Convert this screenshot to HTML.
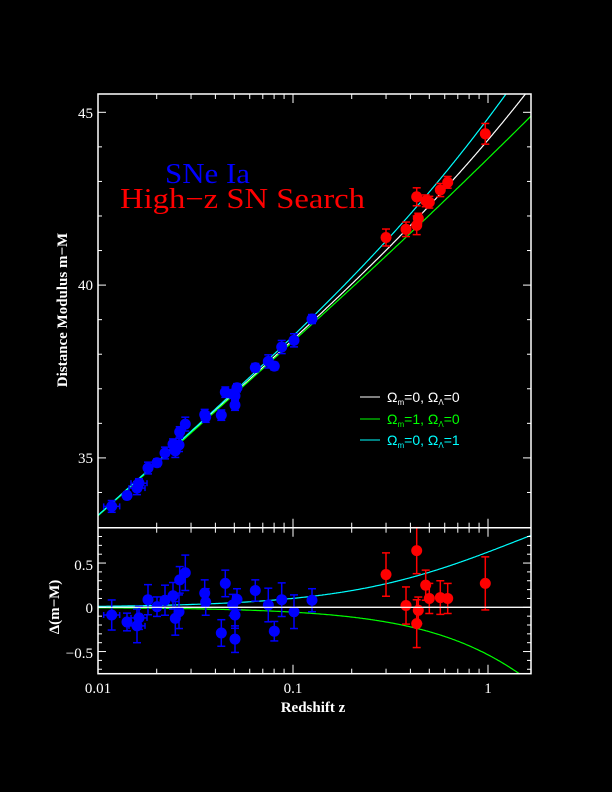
<!DOCTYPE html>
<html><head><meta charset="utf-8"><style>
html,body{margin:0;padding:0;background:#000;width:612px;height:792px;overflow:hidden}
svg text{font-family:"Liberation Serif",serif}
</style></head><body>
<svg id="s" width="612" height="792" xmlns="http://www.w3.org/2000/svg">
<rect width="612" height="792" fill="#000"/>
<g id="g"></g>
<text x="165" y="183" fill="#0000ff" font-size="28" textLength="85" lengthAdjust="spacingAndGlyphs">SNe Ia</text>
<text x="120" y="208" fill="#ff0000" font-size="28" textLength="245" lengthAdjust="spacingAndGlyphs">High−z SN Search</text>
<text transform="translate(67,310) rotate(-90)" fill="#fff" font-size="15" font-weight="bold" text-anchor="middle">Distance Modulus m−M</text>
<text transform="translate(59,607) rotate(-90)" fill="#fff" font-size="15" font-weight="bold" text-anchor="middle">Δ(m−M)</text>
<text x="313" y="712" fill="#fff" font-size="15" font-weight="bold" text-anchor="middle">Redshift z</text>
<g font-size="15" fill="#fff" text-anchor="end">
<text x="93" y="118">45</text><text x="93" y="290">40</text><text x="93" y="463">35</text>
<text x="93" y="570">0.5</text><text x="93" y="613">0</text><text x="93" y="658">−0.5</text>
</g>
<g font-size="15" fill="#fff" text-anchor="middle">
<text x="98" y="693">0.01</text><text x="293" y="693">0.1</text><text x="488" y="693">1</text>
</g>
<g font-size="14">
<line x1="360" y1="397" x2="380" y2="397" stroke="#fff"/>
<text x="387" y="402" fill="#fff" style="font-family:'Liberation Sans',sans-serif">Ω<tspan font-size="8" dy="3">m</tspan><tspan dy="-3">=0, Ω</tspan><tspan font-size="8" dy="3">Λ</tspan><tspan dy="-3">=0</tspan></text>
<line x1="360" y1="419" x2="380" y2="419" stroke="#00ff00"/>
<text x="387" y="424" fill="#00ff00" style="font-family:'Liberation Sans',sans-serif">Ω<tspan font-size="8" dy="3">m</tspan><tspan dy="-3">=1, Ω</tspan><tspan font-size="8" dy="3">Λ</tspan><tspan dy="-3">=0</tspan></text>
<line x1="360" y1="440" x2="380" y2="440" stroke="#00ffff"/>
<text x="387" y="445" fill="#00ffff" style="font-family:'Liberation Sans',sans-serif">Ω<tspan font-size="8" dy="3">m</tspan><tspan dy="-3">=0, Ω</tspan><tspan font-size="8" dy="3">Λ</tspan><tspan dy="-3">=1</tspan></text>
</g>
</svg>
<script>
var g=document.getElementById('g'),h='';
var L=98,R=531,T=94,M=527.7,B=673.7;
function X(z){return 98+(Math.log10(z)+2)*195;}
function Zx(x){return Math.pow(10,(x-98)/195-2);}
function Yt(mu){return 112.3+(45-mu)*34.56;}
function Yb(d){return 607.3-d*88.5;}
var cH=4612;
function d0(z){return z*(1+z/2);}
function d1(z){return 2*(1+z-Math.sqrt(1+z));}
function dL(z){return z*(1+z);}
function mu(d){return 5*Math.log10(d*cH)+25;}
function line(x1,y1,x2,y2,c,w){h+='<line x1="'+x1+'" y1="'+y1+'" x2="'+x2+'" y2="'+y2+'" stroke="'+c+'" stroke-width="'+(w||1)+'"/>';}
function poly(pts,c){h+='<polyline fill="none" stroke="'+c+'" stroke-width="1.2" points="'+pts.join(' ')+'"/>';}
h+='<clipPath id="ct"><rect x="98" y="94" width="433" height="433.7"/></clipPath><clipPath id="cb"><rect x="98" y="527.7" width="433" height="146"/></clipPath>';
[[d0,'#fff'],[d1,'#00ff00'],[dL,'#00ffff']].forEach(function(m){
 var a=[],b=[];
 for(var x=98;x<=531;x+=1){var z=Zx(x);a.push(x+','+Yt(mu(m[0](z))).toFixed(1));b.push(x+','+Yb(5*Math.log10(m[0](z)/d0(z))).toFixed(1));}
 h+='<g clip-path="url(#ct)">';poly(a,m[1]);h+='</g><g clip-path="url(#cb)">';poly(b,m[1]);h+='</g>';
});
var blue=[[111.7,-0.087,.17,1],[127,-0.166,.10,0],[137,-0.21,.19,1],[139,-0.12,.13,1],[148,0.086,.17,0],[157,0.007,.11,0],[165,0.08,.17,0],[173,0.13,.15,0],[175.3,-0.125,.19,0],[179.7,0.31,.15,0],[179,-0.05,.19,0],[185.3,0.39,.2,0],[204.7,0.16,.15,0],[205.7,0.06,.15,0],[221.3,-0.29,.15,0],[225.3,0.27,.15,0],[232.7,0.026,.12,0],[235,-0.087,.15,0],[237,0.09,.12,0],[235,-0.36,.15,0],[255.3,0.19,.12,0],[268.3,0.026,.19,0],[274.3,-0.27,.11,0],[281.7,0.086,.19,0],[294,-0.05,.19,0],[312,0.08,.13,0]];
var red=[[386,0.37,.245],[406,0.02,.21],[416.7,0.64,.26],[416.7,-0.185,.27],[418.3,-0.034,.15],[425.7,0.25,.17],[429.3,0.1,.17],[440.3,0.11,.19],[447.7,0.1,.17],[485.3,0.27,.3]];
function pt(x,yc,e,c,xe){
 var y1=yc-e,y2=yc+e;
 line(x,y1,x,y2,c,1.5);line(x-4,y1,x+4,y1,c,1.5);line(x-4,y2,x+4,y2,c,1.5);
 if(xe){line(x-8,yc,x+8,yc,c,1.5);line(x-8,yc-3,x-8,yc+3,c,1.5);line(x+8,yc-3,x+8,yc+3,c,1.5);}
 h+='<circle cx="'+x+'" cy="'+yc+'" r="5.5" fill="'+c+'"/>';
}
function draw(arr,c){arr.forEach(function(p){var z=Zx(p[0]);
 var m=mu(d0(z))+p[1];pt(p[0],Yt(m),p[2]*34.56,c,p[3]);
 pt(p[0],Yb(p[1]),p[2]*88.5,c,p[3]);});}
draw(blue,'#0000ff');draw(red,'#ff0000');
line(98,607.3,531,607.3,'#fff',1.2);
h+='<rect x="98" y="94" width="433" height="579.7" fill="none" stroke="#fff" stroke-width="1.5"/>';
line(98,M,531,M,'#fff',1.5);
for(var v=34;v<=45;v++){var y=Yt(v);if(y<T||y>M)continue;var l=(v%5==0)?8:4;line(98,y,98+l,y,'#fff');line(531,y,531-l,y,'#fff');}
for(var k=-7;k<=8;k++){var y=Yb(k/10);if(y<M||y>B)continue;var l=(k%5==0)?8:4;line(98,y,98+l,y,'#fff');line(531,y,531-l,y,'#fff');}
[0.01,0.1,1].forEach(function(dec){for(var i=1;i<10;i++){var z=dec*i;var x=X(z);if(x<98||x>531)continue;var l=(i==1)?9:5;
 line(x,T,x,T+l,'#fff');line(x,M,x,M-l,'#fff');line(x,M,x,M+l,'#fff');line(x,B,x,B-l,'#fff');}});
g.innerHTML=h;
</script>
</body></html>
